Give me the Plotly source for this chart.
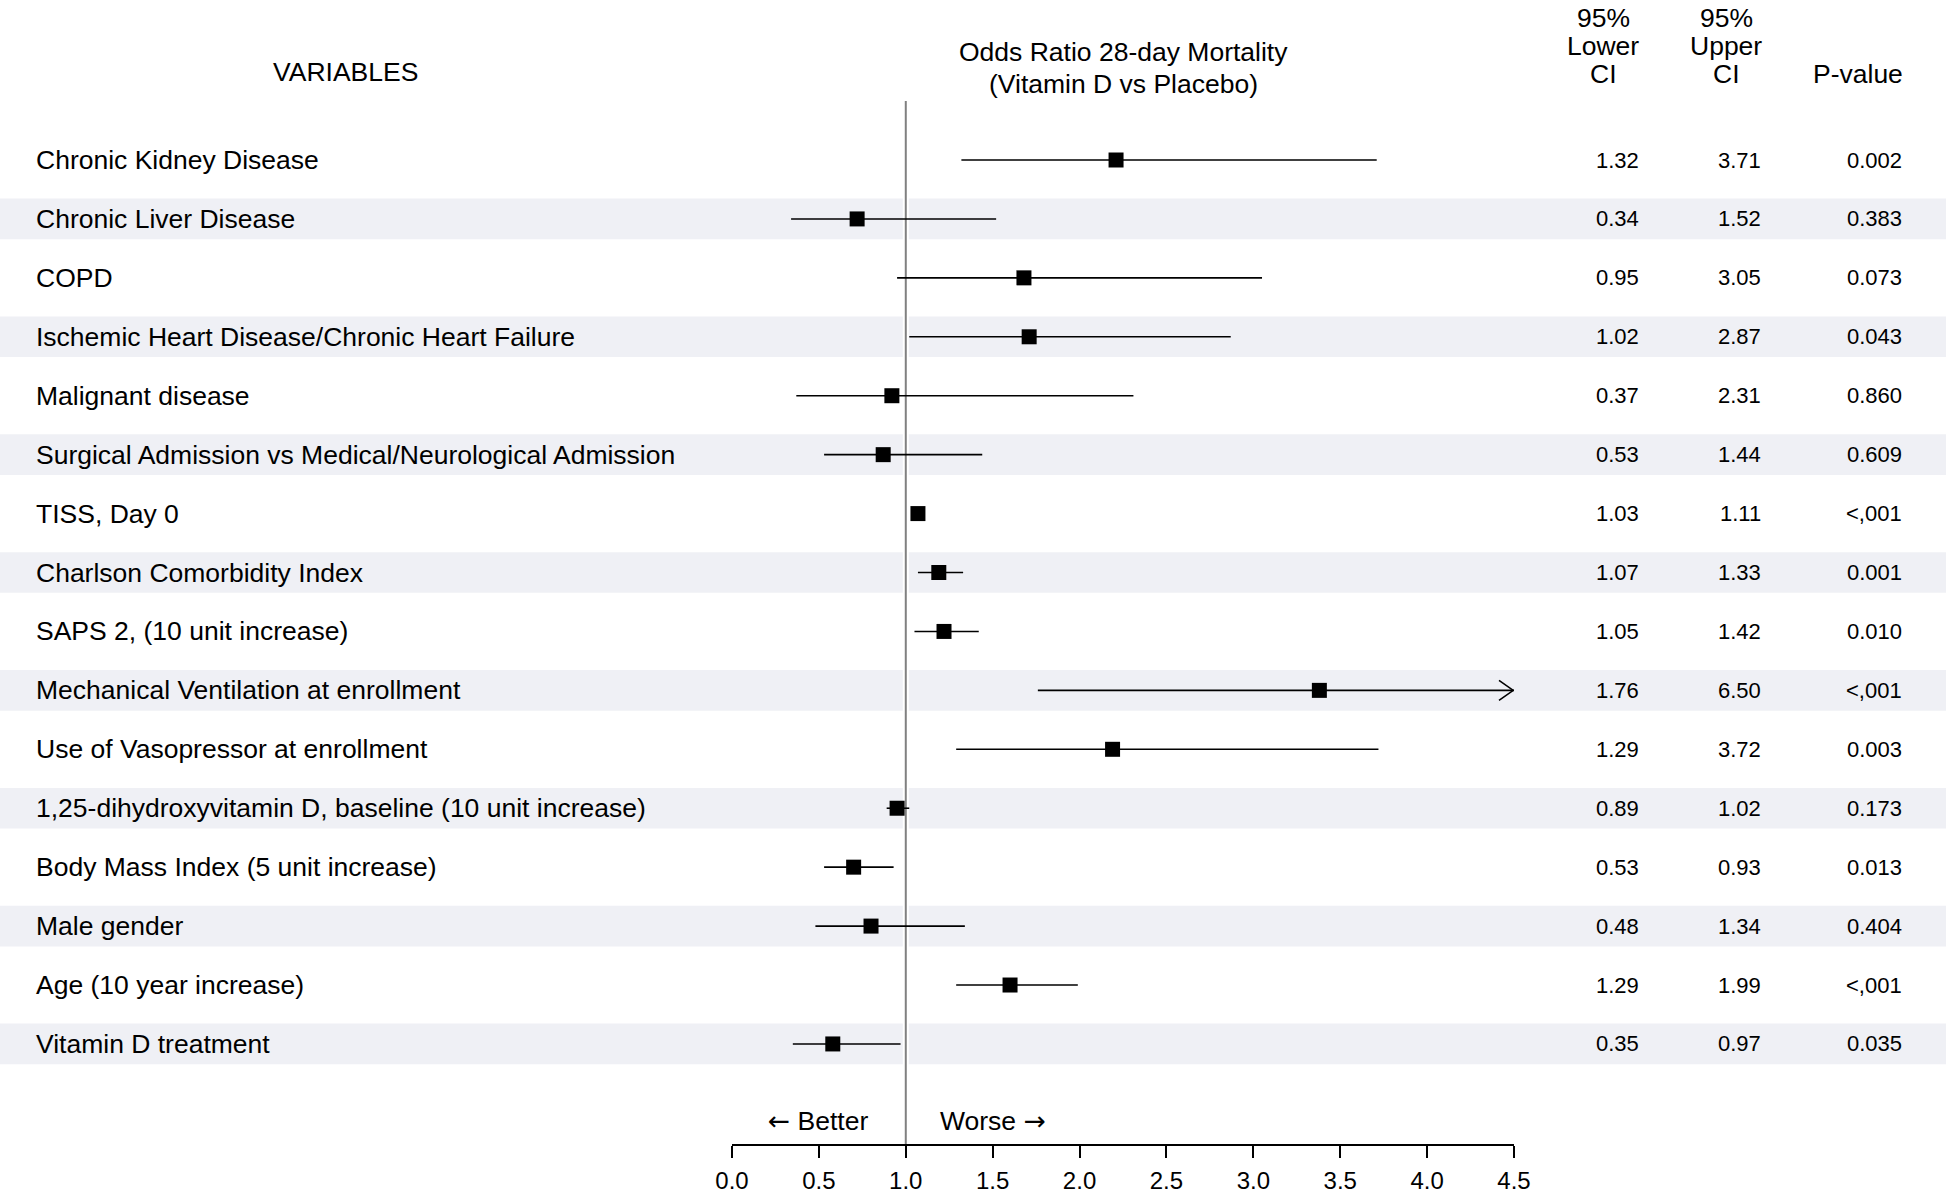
import plotly.graph_objects as go

# ---------------- data ----------------
variables = [
    "Chronic Kidney Disease",
    "Chronic Liver Disease",
    "COPD",
    "Ischemic Heart Disease/Chronic Heart Failure",
    "Malignant disease",
    "Surgical Admission vs Medical/Neurological Admission",
    "TISS, Day 0",
    "Charlson Comorbidity Index",
    "SAPS 2, (10 unit increase)",
    "Mechanical Ventilation at enrollment",
    "Use of Vasopressor at enrollment",
    "1,25-dihydroxyvitamin D, baseline (10 unit increase)",
    "Body Mass Index (5 unit increase)",
    "Male gender",
    "Age (10 year increase)",
    "Vitamin D treatment",
]
odds_ratio = [2.21, 0.72, 1.68, 1.71, 0.92, 0.87, 1.07, 1.19, 1.22, 3.38, 2.19, 0.95, 0.70, 0.80, 1.60, 0.58]
ci_lower = [1.32, 0.34, 0.95, 1.02, 0.37, 0.53, 1.03, 1.07, 1.05, 1.76, 1.29, 0.89, 0.53, 0.48, 1.29, 0.35]
ci_upper = [3.71, 1.52, 3.05, 2.87, 2.31, 1.44, 1.11, 1.33, 1.42, 6.50, 3.72, 1.02, 0.93, 1.34, 1.99, 0.97]
p_values = ["0.002", "0.383", "0.073", "0.043", "0.860", "0.609", "<,001", "0.001",
            "0.010", "<,001", "0.003", "0.173", "0.013", "0.404", "<,001", "0.035"]
x_ticks = [0.0, 0.5, 1.0, 1.5, 2.0, 2.5, 3.0, 3.5, 4.0, 4.5]
ref_value = 1.0

# ---------------- layout constants ----------------
W, H = 1946, 1193
FONT = "Arial, Liberation Sans, sans-serif"
ARROW_FONT = "DejaVu Sans"
X_MIN, X_MAX = x_ticks[0], x_ticks[-1]
X0_PX, X1_PX = 732, 1514          # pixel positions of axis start / end
ROW1_PX, ROW_STEP = 160, 58.93    # pixel centre of first row, row spacing
AXIS_PX = 1145                    # pixel y of the x axis line


def row_of_px(py):
    return 1 + (py - ROW1_PX) / ROW_STEP


def fx(px):
    return px / W


rows = list(range(1, len(variables) + 1))
axis_row = row_of_px(AXIS_PX)

fig = go.Figure()

# whiskers
wx, wy = [], []
for r, lo, hi in zip(rows, ci_lower, ci_upper):
    wx += [lo, min(hi, X_MAX), None]
    wy += [r, r, None]
fig.add_trace(go.Scatter(x=wx, y=wy, mode="lines",
                         line=dict(color="black", width=1.6),
                         hoverinfo="skip", showlegend=False))

# open arrowheads for truncated CIs
ax_, ay_ = [], []
dx = 15 / ((X1_PX - X0_PX) / (X_MAX - X_MIN))
dy = 10 / ROW_STEP
for r, hi in zip(rows, ci_upper):
    if hi > X_MAX:
        ax_ += [X_MAX - dx, X_MAX - 0.004, X_MAX - dx, None]
        ay_ += [r - dy, r, r + dy, None]
fig.add_trace(go.Scatter(x=ax_, y=ay_, mode="lines",
                         line=dict(color="black", width=1.6),
                         hoverinfo="skip", showlegend=False, cliponaxis=False))

# point estimates
fig.add_trace(go.Scatter(x=odds_ratio, y=rows, mode="markers",
                         marker=dict(symbol="square", size=15, color="black",
                                     line=dict(width=0)),
                         customdata=variables,
                         hovertemplate="%{customdata}: %{x}<extra></extra>",
                         showlegend=False))

shapes = []
# shaded bands on alternate rows
for r in rows:
    if r % 2 == 0:
        shapes.append(dict(type="rect", xref="paper", yref="y", x0=0, x1=1,
                           y0=r - 0.345, y1=r + 0.345, fillcolor="#EFF0F5",
                           line=dict(width=0), layer="below"))
# white gap around the reference line, then the line itself
shapes.append(dict(type="line", xref="x", yref="y", x0=ref_value, x1=ref_value,
                   y0=0, y1=axis_row, line=dict(color="white", width=6), layer="below"))
shapes.append(dict(type="line", xref="x", yref="y", x0=ref_value, x1=ref_value,
                   y0=0, y1=axis_row, line=dict(color="#808080", width=2), layer="below"))

annotations = []


def txt(text, xpx, ypx=None, yrow=None, size=26.5, anchor="center"):
    d = dict(text=text, xref="paper", x=fx(xpx), xanchor=anchor, yanchor="middle",
             showarrow=False, font=dict(family=FONT, size=size, color="black"),
             yref="y", y=yrow if yrow is not None else row_of_px(ypx))
    annotations.append(d)


# row labels and numeric columns
for r, name, lo, hi, p in zip(rows, variables, ci_lower, ci_upper, p_values):
    txt(name, 34, yrow=r, anchor="left")
    txt(f"{lo:.2f}", 1641, yrow=r, size=22, anchor="right")
    txt(f"{hi:.2f}", 1763, yrow=r, size=22, anchor="right")
    txt(p, 1904, yrow=r, size=22, anchor="right")

# headers
txt("VARIABLES", 345, ypx=72)
txt("Odds Ratio 28-day Mortality", 1123, ypx=52)
txt("(Vitamin D vs Placebo)", 1123, ypx=84)
for xc, word in [(1603, "Lower"), (1726, "Upper")]:
    txt("95%", xc, ypx=18)
    txt(word, xc, ypx=46)
    txt("CI", xc, ypx=74)
txt("P-value", 1858, ypx=74)

# direction hints
txt(f'<span style="font-family:{ARROW_FONT}">\u2190</span> Better', 818, ypx=1120)
txt(f'Worse <span style="font-family:{ARROW_FONT}">\u2192</span>', 993, ypx=1120)

fig.update_layout(
    width=W, height=H,
    margin=dict(l=0, r=0, t=0, b=0, pad=0),
    paper_bgcolor="white", plot_bgcolor="white",
    font=dict(family=FONT, color="black"),
    shapes=shapes, annotations=annotations,
    xaxis=dict(domain=[fx(X0_PX), fx(X1_PX)], range=[X_MIN, X_MAX],
               tickvals=x_ticks, tickformat=".1f",
               showline=True, linecolor="black", linewidth=2,
               ticks="outside", ticklen=12, tickwidth=1.5, tickcolor="black",
               ticklabelstandoff=2,
               tickfont=dict(family=FONT, size=24, color="black"),
               showgrid=False, zeroline=False, automargin=False,
               anchor="free", position=1 - AXIS_PX / H),
    yaxis=dict(domain=[0, 1], range=[row_of_px(H), row_of_px(0)],
               visible=False, showgrid=False, zeroline=False, automargin=False),
)

fig.write_html("out.html",
               config={"displayModeBar": False},
               post_script="document.body.style.margin='0';document.body.style.overflow='hidden';")
